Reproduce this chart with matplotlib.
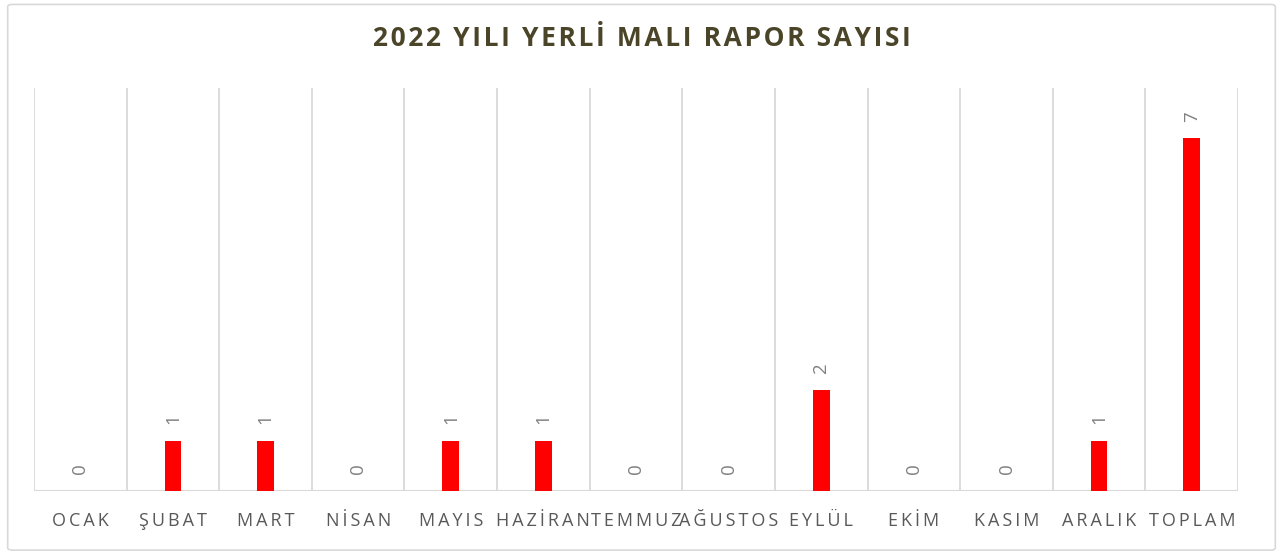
import matplotlib
matplotlib.use("Agg")
import matplotlib.pyplot as plt
from matplotlib.patches import FancyBboxPatch

categories = ["OCAK", "ŞUBAT", "MART", "NİSAN", "MAYIS", "HAZİRAN", "TEMMUZ",
              "AĞUSTOS", "EYLÜL", "EKİM", "KASIM", "ARALIK", "TOPLAM"]
values = [0, 1, 1, 0, 1, 1, 0, 0, 2, 0, 0, 1, 7]
title = "2022 YILI YERLİ MALI RAPOR SAYISI"

plt.rcParams['font.family'] = ['Open Sans', 'DejaVu Sans']

def spaced(s, sep="\u2009"):
    return sep.join(list(s))

fig = plt.figure(figsize=(12.83, 5.54), dpi=100)
# outer border
border = FancyBboxPatch((0.006, 0.007), 0.988, 0.985, boxstyle="round,pad=0,rounding_size=0.004",
                        transform=fig.transFigure, fill=False, edgecolor="#d9d9d9", linewidth=1.2)
fig.patches.append(border)

ax = fig.add_axes([0.0265, 0.1137, 0.9385, 0.7273])
n = len(categories)
x = list(range(n))
ax.bar(x, values, width=0.18, color="#ff0000", zorder=3)
ax.set_xlim(-0.5, n - 0.5)
ax.set_ylim(0, 8)
for b in [i - 0.5 for i in range(n + 1)]:
    ax.axvline(b, color="#d9d9d9", linewidth=1.3, zorder=1)
for s in ax.spines.values():
    s.set_visible(False)
ax.axhline(0, color="#d9d9d9", linewidth=1.5, zorder=2)
ax.set_yticks([])
ax.set_xticks(x)
ax.set_xticklabels([spaced(c) for c in categories], fontsize=13, color="#595959")
ax.tick_params(axis="x", length=0, pad=15)

for xi, v in zip(x, values):
    ax.annotate(str(v), (xi, v), xytext=(0, 12), textcoords="offset points",
                rotation=90, ha="center", va="bottom", fontsize=13.5, color="#808080")

fig.text(0.5, 0.93, spaced(title, "\u200a"), ha="center", va="center", fontsize=19,
         fontweight="bold", color="#4a4428")

fig.savefig("out.png", dpi=100)
